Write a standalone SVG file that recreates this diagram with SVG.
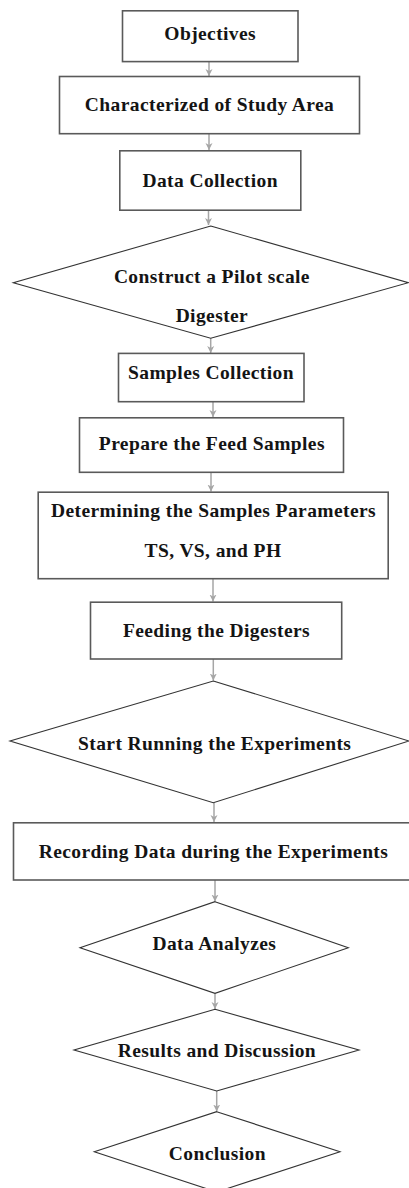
<svg xmlns="http://www.w3.org/2000/svg" width="409" height="1188" viewBox="0 0 409 1188">
<defs>
<marker id="ah" markerWidth="8" markerHeight="8" refX="7" refY="4" orient="auto" markerUnits="userSpaceOnUse">
<path d="M0,0.5 L7,4 L0,7.5 L2,4 Z" fill="#a6a6a6"/>
</marker>
<style>
.box{fill:#fff;stroke:#5a5a5a;stroke-width:1.6}
.dia{fill:#fff;stroke:#333;stroke-width:1.1}
.t{font-family:"Liberation Serif","Times New Roman",serif;font-weight:bold;font-size:19.5px;letter-spacing:0.4px;fill:#141414;text-anchor:middle}
.c{stroke:#a6a6a6;stroke-width:1.5;fill:none;marker-end:url(#ah)}
</style>
</defs>
<rect width="409" height="1188" fill="#fff"/>
<g id="connectors">
<line class="c" x1="209" y1="62" x2="209" y2="76"/>
<line class="c" x1="209" y1="134" x2="209" y2="150"/>
<line class="c" x1="208.5" y1="210" x2="208.5" y2="225"/>
<line class="c" x1="210.7" y1="338" x2="210.7" y2="353"/>
<line class="c" x1="213" y1="402" x2="213" y2="417"/>
<line class="c" x1="211" y1="472.5" x2="211" y2="491.5"/>
<line class="c" x1="213" y1="579" x2="213" y2="601.5"/>
<line class="c" x1="213.3" y1="659" x2="213.3" y2="680.5"/>
<line class="c" x1="214" y1="803" x2="214" y2="822"/>
<line class="c" x1="215" y1="880" x2="215" y2="901.5"/>
<line class="c" x1="215" y1="993.5" x2="215" y2="1009"/>
<line class="c" x1="216.7" y1="1091" x2="216.7" y2="1111.5"/>
</g>
<g id="n1"><rect class="box" x="122.5" y="10.8" width="175.5" height="50.8"/><text class="t" x="210.2" y="39.5">Objectives</text></g>
<g id="n2"><rect class="box" x="59.5" y="76.5" width="300" height="57.2"/><text class="t" x="209.5" y="111">Characterized of Study Area</text></g>
<g id="n3"><rect class="box" x="119.8" y="150.8" width="181" height="59.4"/><text class="t" x="210.2" y="187">Data Collection</text></g>
<g id="n4"><polygon class="dia" points="210.7,226 408.3,282.7 210.7,338.3 13.3,282.7"/><text class="t" x="211.9" y="282.5">Construct a Pilot scale</text><text class="t" x="211.9" y="321.7">Digester</text></g>
<g id="n5"><rect class="box" x="118.5" y="353.4" width="185.5" height="48.3"/><text class="t" x="211" y="379">Samples Collection</text></g>
<g id="n6"><rect class="box" x="79.5" y="417.8" width="264" height="54.5"/><text class="t" x="211.9" y="450">Prepare the Feed Samples</text></g>
<g id="n7"><rect class="box" x="38.2" y="492.2" width="350" height="86.5"/><text class="t" x="213.5" y="516.7">Determining the Samples Parameters</text><text class="t" x="213" y="556.7">TS, VS, and PH</text></g>
<g id="n8"><rect class="box" x="90.5" y="602.2" width="251.2" height="56.8"/><text class="t" x="216.5" y="636.7">Feeding the Digesters</text></g>
<g id="n9"><polygon class="dia" points="213.3,681 409,741 213.3,802.7 10,741"/><text class="t" x="214.7" y="750">Start Running the Experiments</text></g>
<g id="n10"><rect class="box" x="13.5" y="822.8" width="400" height="57.2"/><text class="t" x="213.5" y="858.3">Recording Data during the Experiments</text></g>
<g id="n11"><polygon class="dia" points="215,901.7 348.3,947.7 215,993.3 80,947.7"/><text class="t" x="214.4" y="950">Data Analyzes</text></g>
<g id="n12"><polygon class="dia" points="215,1009.3 359,1050 216.7,1091 74,1050"/><text class="t" x="216.9" y="1057.3">Results and Discussion</text></g>
<g id="n13"><polygon class="dia" points="216.7,1111.7 340,1151.7 216.7,1192 94.3,1151.7"/><text class="t" x="217.4" y="1160">Conclusion</text></g>
</svg>
